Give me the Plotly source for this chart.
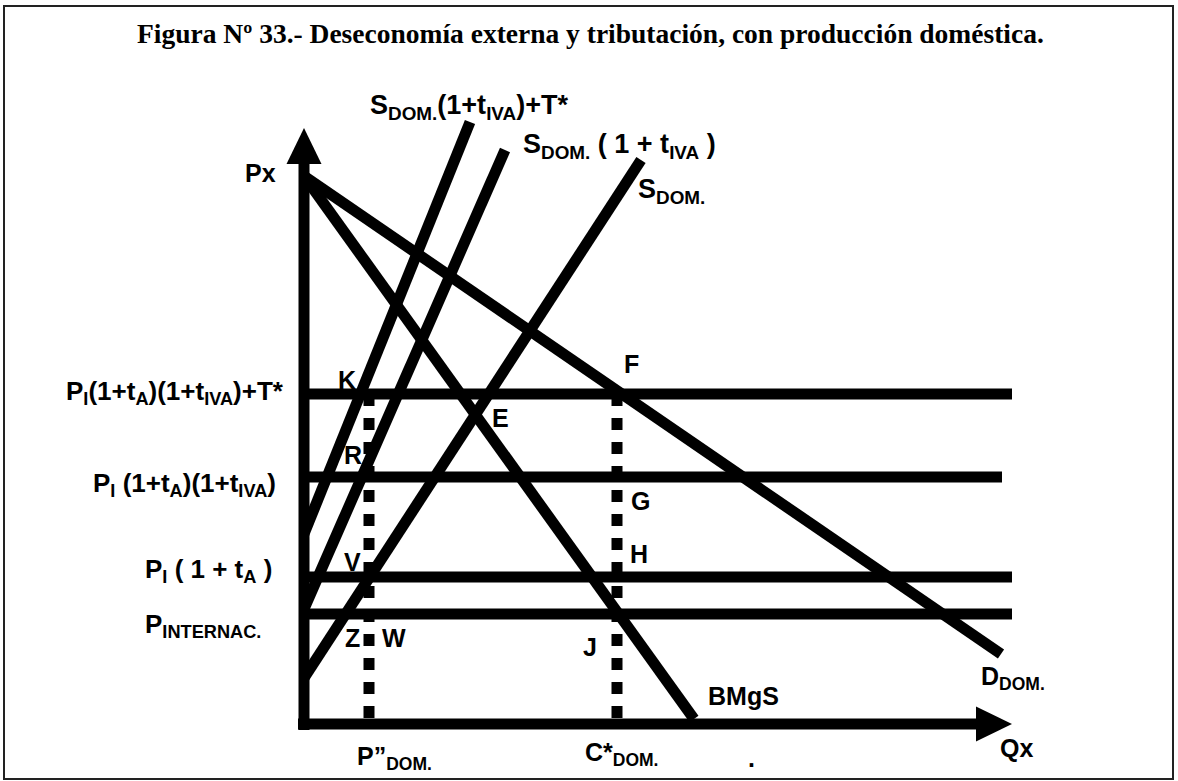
import plotly.graph_objects as go

W, H = 1178, 781
OX, OY = 304, 724  # pixel position of the diagram origin


def px(x, y):
    """convert a page pixel position into diagram units (Q, P)"""
    return x - OX, OY - y


# ---------------- data (diagram units: Q to the right, P upwards) ----------
price_levels = [330, 247, 147, 110]
price_line_end = [708, 698, 708, 708]
price_labels = [
    "P<sub>I</sub>(1+t<sub>A</sub>)(1+t<sub>IVA</sub>)+T*",
    "P<sub>I</sub> (1+t<sub>A</sub>)(1+t<sub>IVA</sub>)",
    "P<sub>I</sub> ( 1 + t<sub>A</sub> )",
    "P<sub>INTERNAC.</sub>",
]

curve_names = ["D_DOM", "BMgS", "S_DOM", "S_DOM_IVA", "S_DOM_IVA_T"]
curve_q0 = [0, 0, 0, 0, 0]
curve_p0 = [548, 548, 46, 115, 190]
curve_q1 = [697, 390, 337, 201, 166]
curve_p1 = [70, 5, 564, 574, 602]

quantity_levels = [65, 313]
quantity_labels = ["P”<sub>DOM.</sub>", "C*<sub>DOM.</sub>"]

q_axis_end = 708
p_axis_end = 596
arrow_len = 36
arrow_half = 17.5

LW = 11
BLACK = "#000000"
SANS = "Liberation Sans, Arial, sans-serif"
SERIF = "Liberation Serif, Times New Roman, serif"

fig = go.Figure()

# axes (thick lines + triangle heads)
fig.add_trace(go.Scatter(x=[0, 0], y=[-6, p_axis_end - arrow_len + 2], mode="lines",
                         line=dict(color=BLACK, width=LW), hoverinfo="skip"))
fig.add_trace(go.Scatter(x=[-6, q_axis_end - arrow_len + 2], y=[0, 0], mode="lines",
                         line=dict(color=BLACK, width=LW), hoverinfo="skip"))
fig.add_trace(go.Scatter(
    x=[-arrow_half, arrow_half, 0, -arrow_half],
    y=[p_axis_end - arrow_len, p_axis_end - arrow_len, p_axis_end, p_axis_end - arrow_len],
    mode="lines", fill="toself", fillcolor=BLACK, line=dict(width=0, color=BLACK), hoverinfo="skip"))
fig.add_trace(go.Scatter(
    x=[q_axis_end - arrow_len, q_axis_end - arrow_len, q_axis_end, q_axis_end - arrow_len],
    y=[-arrow_half, arrow_half, 0, -arrow_half],
    mode="lines", fill="toself", fillcolor=BLACK, line=dict(width=0, color=BLACK), hoverinfo="skip"))

# horizontal price lines
for lvl, end in zip(price_levels, price_line_end):
    fig.add_trace(go.Scatter(x=[0, end], y=[lvl, lvl], mode="lines",
                             line=dict(color=BLACK, width=LW), hoverinfo="skip"))

# curves
for q0, p0, q1, p1 in zip(curve_q0, curve_p0, curve_q1, curve_p1):
    fig.add_trace(go.Scatter(x=[q0, q1], y=[p0, p1], mode="lines",
                             line=dict(color=BLACK, width=LW), hoverinfo="skip"))

# dotted verticals
for q in quantity_levels:
    fig.add_trace(go.Scatter(x=[q, q], y=[price_levels[0], 0], mode="lines",
                             line=dict(color=BLACK, width=LW, dash="12px,12px"),
                             hoverinfo="skip"))

annotations = []


def label(text, x, y, size=24, xanchor="center", family=SANS, bold=True):
    q, p = px(x, y)
    annotations.append(dict(
        x=q, y=p, xref="x", yref="y", text=("<b>%s</b>" % text) if bold else text,
        showarrow=False, xanchor=xanchor, yanchor="middle",
        font=dict(family=family, size=size, color=BLACK)))


# title
label("Figura Nº 33.- Deseconomía externa y tributación, con producción doméstica.",
      590, 33, size=27.5, family=SERIF)

# price labels at the left (right aligned)
price_label_px = [(286, 392), (278, 484), (274, 570), (263, 625)]
for txt, (x, y) in zip(price_labels, price_label_px):
    label(txt, x, y, size=26, xanchor="right")

# curve labels
label("S<sub>DOM.</sub>(1+t<sub>IVA</sub>)+T*", 469, 107, size=27)
label("S<sub>DOM.</sub> ( 1 + t<sub>IVA</sub> )", 619, 146, size=27)
label("S<sub>DOM.</sub>", 671, 191, size=27)
label("D<sub>DOM.</sub>", 1013, 678, size=25)
label("BMgS", 743, 696, size=25)

# axis labels
label("Px", 260, 173, size=25)
label("Qx", 1016, 748, size=25)

# quantity labels
label(quantity_labels[0], 394, 758, size=25)
label(quantity_labels[1], 622, 754, size=25)
label(".", 751, 758, size=25)

# point labels
points = [("K", 347, 380), ("R", 353, 455), ("V", 352, 562), ("Z", 352, 638),
          ("W", 394, 638), ("E", 500, 418), ("F", 631, 364), ("G", 640, 501),
          ("H", 639, 554), ("J", 590, 647)]
for t, x, y in points:
    label(t, x, y, size=25)

# frame
q0, p0 = px(4, 6)
q1, p1 = px(1173, 779)
fig.add_shape(type="rect", xref="x", yref="y", x0=q0, y0=p1, x1=q1, y1=p0,
              line=dict(color="#222222", width=2), layer="below")

fig.update_layout(
    width=W, height=H, autosize=False,
    margin=dict(l=0, r=0, t=0, b=0),
    paper_bgcolor="white", plot_bgcolor="white",
    showlegend=False,
    annotations=annotations,
    xaxis=dict(range=[-OX, W - OX], visible=False, fixedrange=True),
    yaxis=dict(range=[OY - H, OY], visible=False, fixedrange=True),
)

fig.write_html("out.html",
               config={"displayModeBar": False, "staticPlot": True},
               post_script="document.body.style.margin='0';document.body.style.overflow='hidden';")
